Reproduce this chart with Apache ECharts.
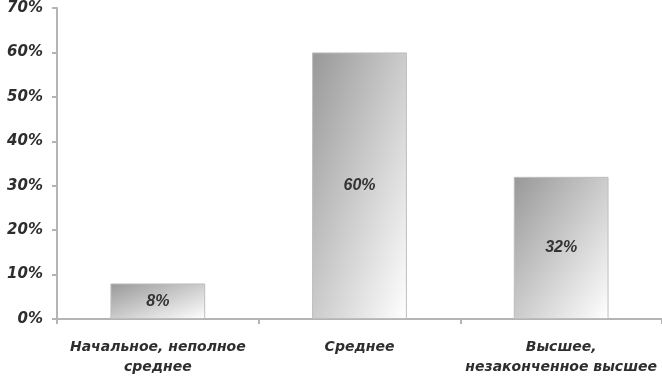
<!DOCTYPE html>
<html>
<head>
<meta charset="utf-8">
<style>
  html, body { margin: 0; padding: 0; background: #fff; }
  #chart { width: 662px; height: 377px; }
</style>
<script src="https://cdn.jsdelivr.net/npm/echarts@6/dist/echarts.min.js"></script>
</head>
<body>
<div id="chart"></div>
<script>
// Education level distribution
const categories = ['Начальное, неполное\nсреднее', 'Среднее', 'Высшее,\nнезаконченное высшее'];
const shares = [8, 60, 32];
const yTicks = { min: 0, max: 70, interval: 10 };

const BAR_RATIO = 0.47;
const chart = echarts.init(document.getElementById('chart'), null, { renderer: 'canvas' });

const axisFont = 'DejaVu Sans, Verdana, sans-serif';
const valueFont = 'Liberation Sans, Arial, sans-serif';

// Diagonal shading whose colour bands run parallel to the box's anti-diagonal,
// so every bar goes dark at the top-left corner to white at the bottom-right.
function diagonalFill(w, h) {
  const s = w * w + h * h;
  return new echarts.graphic.LinearGradient(0, 0, 2 * h * h / s, 2 * w * w / s, [
    { offset: 0, color: '#989898' },
    { offset: 1, color: '#ffffff' }
  ]);
}

const baseOption = {
  animation: false,
  grid: { left: 57, right: 0, top: 8, bottom: 58, containLabel: false, outerBoundsMode: 'none' },
  xAxis: {
    type: 'category',
    data: categories,
    axisLine: { show: true, lineStyle: { color: '#b4b4b4', width: 2 } },
    axisTick: { show: true, length: 5, lineStyle: { color: '#b4b4b4', width: 2 } },
    axisLabel: {
      interval: 0,
      margin: 18,
      color: '#2e2e2e',
      fontFamily: axisFont,
      fontSize: 14,
      fontStyle: 'italic',
      fontWeight: 'bold',
      lineHeight: 20
    }
  },
  yAxis: {
    type: 'value',
    min: yTicks.min,
    max: yTicks.max,
    interval: yTicks.interval,
    splitLine: { show: false },
    axisLine: { show: true, lineStyle: { color: '#b4b4b4', width: 2 } },
    axisTick: { show: true, length: 5, lineStyle: { color: '#b4b4b4', width: 2 } },
    axisLabel: {
      margin: 14,
      color: '#2e2e2e',
      fontFamily: axisFont,
      fontSize: 15,
      fontStyle: 'italic',
      fontWeight: 'bold',
      formatter: v => v + '%'
    }
  },
  series: [{
    type: 'bar',
    data: shares,
    barWidth: (BAR_RATIO * 100) + '%',
    itemStyle: {
      color: '#cccccc',
      borderColor: '#bdbdbd',
      borderWidth: 1
    },
    label: {
      show: true,
      position: 'inside',
      formatter: p => p.value + '%',
      color: '#333333',
      fontFamily: valueFont,
      fontSize: 16,
      fontStyle: 'italic',
      fontWeight: 'bold'
    }
  }]
};

chart.setOption(baseOption);

// Size each bar's shading from its on-screen box.
const band = chart.convertToPixel({ xAxisIndex: 0 }, 1) - chart.convertToPixel({ xAxisIndex: 0 }, 0);
const zeroY = chart.convertToPixel({ yAxisIndex: 0 }, 0);
const barW = band * BAR_RATIO;
chart.setOption({
  series: [{
    data: shares.map(v => {
      const h = Math.max(1, zeroY - chart.convertToPixel({ yAxisIndex: 0 }, v));
      return { value: v, itemStyle: { color: diagonalFill(barW, h) } };
    })
  }]
});
</script>
</body>
</html>
